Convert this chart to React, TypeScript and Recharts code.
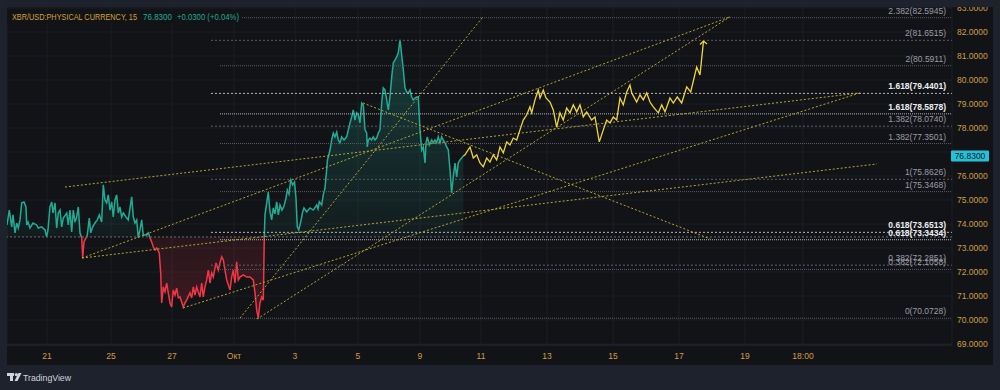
import React from "react";
import { ComposedChart, Area, Line, XAxis, YAxis, CartesianGrid, ReferenceLine } from "recharts";

// time unit: one x-axis label step (~1 session); value: price
const priceSeries: [number, number][] = [
  [0.355, 73.96], [0.392, 74.58], [0.431, 73.88], [0.452, 74.38], [0.484, 73.63], [0.511, 74.04],
  [0.537, 73.83], [0.565, 74.17], [0.592, 74.88], [0.629, 74.92], [0.661, 74.71], [0.673, 73.96],
  [0.694, 74.08], [0.726, 73.83], [0.774, 74.04], [0.834, 73.96], [0.86, 73.83], [0.915, 73.88],
  [0.968, 73.75], [0.995, 73.46], [1.016, 73.75], [1.048, 74.71], [1.076, 74.92], [1.097, 74.46],
  [1.129, 74.88], [1.156, 73.83], [1.182, 74.46], [1.21, 74.58], [1.237, 73.88], [1.263, 74.25],
  [1.318, 74.46], [1.344, 73.96], [1.371, 74.58], [1.398, 73.67], [1.424, 74.58], [1.452, 74.08],
  [1.479, 74.29], [1.505, 74.71], [1.532, 73.63], [1.56, 73.42], [1.576, 72.58], [1.597, 73.25],
  [1.629, 73.42], [1.65, 73.54], [1.682, 74.25], [1.705, 73.63], [1.737, 73.88], [1.774, 74.04],
  [1.811, 74.17], [1.844, 74.38], [1.882, 74.08], [1.908, 75.63], [1.935, 75.0], [1.963, 74.88],
  [1.989, 75.21], [2.016, 74.58], [2.044, 74.92], [2.069, 74.29], [2.097, 75.0], [2.124, 75.21],
  [2.15, 74.46], [2.177, 74.71], [2.205, 74.29], [2.231, 74.46], [2.274, 74.29], [2.311, 74.17],
  [2.366, 75.13], [2.392, 74.29], [2.419, 74.04], [2.447, 74.17], [2.473, 73.42], [2.5, 73.75],
  [2.527, 74.17], [2.553, 73.54], [2.608, 73.54], [2.634, 73.63], [2.661, 73.42], [2.689, 73.25],
  [2.715, 73.04], [2.742, 72.92], [2.769, 73.0], [2.811, 72.79], [2.834, 71.96], [2.85, 70.71],
  [2.876, 71.38], [2.903, 71.17], [2.931, 71.54], [2.956, 71.13], [2.984, 70.71], [3.011, 70.54],
  [3.037, 71.25], [3.065, 71.04], [3.092, 71.33], [3.118, 70.92], [3.145, 70.96], [3.173, 70.75],
  [3.198, 70.54], [3.226, 70.71], [3.253, 70.83], [3.306, 71.13], [3.334, 70.92], [3.36, 71.38],
  [3.387, 71.04], [3.415, 71.38], [3.44, 71.17], [3.468, 70.96], [3.495, 71.54], [3.521, 70.96],
  [3.548, 71.38], [3.576, 71.67], [3.602, 72.08], [3.629, 71.54], [3.656, 71.96], [3.682, 71.79],
  [3.726, 72.38], [3.763, 72.08], [3.79, 72.38], [3.818, 72.63], [3.844, 72.5], [3.871, 72.08],
  [3.898, 71.67], [3.952, 71.25], [3.979, 71.79], [4.005, 72.08], [4.032, 71.54], [4.06, 72.42],
  [4.086, 71.67], [4.113, 71.79], [4.166, 71.88], [4.221, 71.79], [4.274, 71.79], [4.327, 71.67],
  [4.355, 71.13], [4.382, 70.42], [4.408, 70.08], [4.435, 70.71], [4.463, 70.96], [4.489, 70.83],
  [4.505, 73.46], [4.516, 74.38], [4.569, 75.33], [4.597, 74.5], [4.624, 74.17], [4.65, 74.67],
  [4.677, 74.42], [4.705, 74.92], [4.731, 74.38], [4.758, 74.79], [4.79, 74.58], [4.823, 74.75],
  [4.855, 75.08], [4.876, 75.42], [4.903, 75.25], [4.931, 75.83], [4.963, 75.63], [4.992, 75.75],
  [5.016, 75.08], [5.037, 73.88], [5.06, 73.75], [5.092, 74.08], [5.124, 74.5], [5.145, 74.67],
  [5.189, 74.5], [5.242, 74.67], [5.295, 74.58], [5.35, 74.79], [5.371, 74.63], [5.392, 74.92],
  [5.431, 74.79], [5.456, 75.21], [5.484, 75.5], [5.508, 76.17], [5.524, 76.67], [5.565, 77.08],
  [5.592, 77.5], [5.618, 77.79], [5.645, 77.63], [5.673, 77.83], [5.698, 77.5], [5.726, 77.38],
  [5.753, 77.63], [5.79, 77.5], [5.834, 77.63], [5.86, 77.92], [5.887, 78.21], [5.915, 78.46],
  [5.94, 78.75], [5.968, 78.33], [5.995, 78.63], [6.021, 78.54], [6.048, 78.21], [6.076, 79.04],
  [6.102, 78.96], [6.129, 77.92], [6.156, 77.79], [6.166, 77.21], [6.182, 77.5], [6.21, 77.58],
  [6.237, 77.5], [6.263, 77.63], [6.29, 77.5], [6.318, 77.58], [6.344, 77.79], [6.371, 77.92],
  [6.398, 79.04], [6.424, 79.67], [6.452, 79.58], [6.479, 79.17], [6.505, 78.75], [6.532, 79.29],
  [6.56, 80.13], [6.585, 80.71], [6.613, 80.83], [6.64, 80.96], [6.666, 81.13], [6.694, 81.67],
  [6.721, 81.04], [6.747, 80.42], [6.774, 79.67], [6.802, 79.5], [6.827, 79.46], [6.855, 79.58],
  [6.882, 79.29], [6.908, 79.17], [6.935, 79.25], [6.963, 79.29], [6.989, 79.29], [7.016, 77.92],
  [7.044, 77.08], [7.069, 77.21], [7.097, 76.54], [7.113, 77.38], [7.134, 77.63], [7.166, 77.29],
  [7.205, 77.5], [7.231, 77.38], [7.258, 77.5], [7.285, 77.38], [7.311, 77.63], [7.339, 77.38],
  [7.366, 77.63], [7.392, 77.5], [7.419, 77.38], [7.447, 77.21], [7.473, 77.08], [7.5, 76.25],
  [7.527, 75.29], [7.553, 75.96], [7.581, 76.54], [7.608, 75.96], [7.634, 76.54], [7.661, 76.67],
  [7.715, 76.83],
];

// hand-drawn forecast path (yellow)
const forecastPath: [number, number][] = [
  [7.715, 76.83], [7.742, 76.88], [7.823, 77.21], [7.876, 76.75], [7.931, 76.88], [7.984, 76.54],
  [8.037, 76.38], [8.092, 76.75], [8.145, 76.58], [8.198, 76.88], [8.253, 76.67], [8.306, 77.21],
  [8.36, 76.96], [8.415, 77.42], [8.468, 77.29], [8.521, 77.58], [8.576, 77.5], [8.629, 77.92],
  [8.682, 78.33], [8.737, 78.54], [8.79, 78.88], [8.818, 78.63], [8.871, 79.17], [8.924, 79.58],
  [8.952, 79.25], [9.005, 79.58], [9.048, 79.25], [9.113, 79.08], [9.166, 78.75], [9.221, 78.04],
  [9.274, 78.63], [9.327, 78.33], [9.382, 78.83], [9.435, 78.63], [9.489, 78.96], [9.544, 78.67],
  [9.597, 78.96], [9.65, 78.46], [9.705, 78.67], [9.785, 78.33], [9.839, 78.46], [9.908, 77.42],
  [9.973, 77.92], [10.027, 78.33], [10.081, 78.21], [10.134, 78.46], [10.189, 78.33], [10.242, 79.25],
  [10.295, 78.96], [10.35, 79.5], [10.403, 79.79], [10.431, 79.46], [10.511, 79.08], [10.565, 79.38],
  [10.618, 79.17], [10.673, 79.46], [10.726, 79.08], [10.779, 78.88], [10.86, 78.63], [10.915, 78.96],
  [10.968, 78.67], [11.048, 79.25], [11.102, 79.04], [11.166, 79.29], [11.237, 79.04], [11.318, 79.71],
  [11.382, 79.5], [11.479, 80.54], [11.532, 80.21], [11.589, 81.62],
];

// dotted trend lines: [t1, v1, t2, v2]
const trendLines: [number, number, number, number][] = [
  [1.29, 75.54, 14.113, 79.46],
  [1.565, 72.58, 12.016, 82.63],
  [1.565, 72.58, 14.387, 76.5],
  [3.194, 70.5, 14.113, 79.46],
  [4.387, 70.04, 12.016, 82.63],
  [4.113, 70.08, 8.032, 82.63],
  [6.097, 79.04, 11.694, 73.38],
];

// fib retracement levels: [level, price]
const fibA: [number, number][] = [
  [0.382, 72.2851], [0.618, 73.6513], [1, 75.8626], [1.382, 78.074], [1.618, 79.4401], [2, 81.6515],
];
const fibB: [number, number][] = [
  [0, 70.0728], [0.382, 72.1058], [0.618, 73.3434], [1, 75.3468], [1.382, 77.3501], [1.618, 78.5878],
  [2, 80.5911], [2.382, 82.5945],
];
const FIB_A_START = 3.645;
const FIB_B_START = 3.79;

const xTickValues = [1, 2.032, 3.016, 4.016, 5, 6.016, 7.016, 8, 9.065, 10.129, 11.194, 12.258, 13.194];
const xTickLabels = ["21", "25", "27", "Окт", "3", "5", "9", "11", "13", "15", "17", "19", "18:00"];
const yTicks = [69, 70, 71, 72, 73, 74, 75, 76, 77, 78, 79, 80, 81, 82, 83];

const X_MIN = 0.355;
const X_MAX = 15.597;
const Y_MIN = 68.958;
const Y_MAX = 83.04;
const BASE = 73.46;
const LAST = 76.83;

const FONT = "'Liberation Sans', Arial, sans-serif";
const GOLD = "#cf9f45";
const TEAL = "#22ab94";
const RED = "#f23645";

const priceData = priceSeries.map(([t, v]) => ({ t, v }));
const pathData = forecastPath.map(([t, v]) => ({ t, v }));
const maxV = Math.max(...priceSeries.map((p) => p[1]));
const minV = Math.min(...priceSeries.map((p) => p[1]));
const split = (maxV - BASE) / (maxV - minV);

const XTick = (p: any) => {
  const i = xTickValues.indexOf(p.payload.value);
  return (
    <text x={p.x} y={p.y + 14} textAnchor="middle" fill={GOLD} fontSize={8.5} fontFamily={FONT}>
      {xTickLabels[i]}
    </text>
  );
};

const YTick = (p: any) => {
  if (Math.abs(p.payload.value - LAST) < 0.3) return <g />;
  return (
    <text x={p.x + 5} y={p.y + 3} fill={GOLD} fontSize={8.5} fontFamily={FONT}>
      {p.payload.value.toFixed(4)}
    </text>
  );
};

const fibLabel = (text: string, bright: boolean) => (props: any) => {
  const vb = props.viewBox || {};
  return (
    <text
      x={vb.x + vb.width - 6}
      y={vb.y - 4}
      textAnchor="end"
      fill={bright ? "#eceef2" : "#9a9da5"}
      fontWeight={bright ? 700 : 400}
      fontSize={8.5}
      fontFamily={FONT}
    >
      {text}
    </text>
  );
};

const lastLabel = (props: any) => {
  const vb = props.viewBox || {};
  const right = vb.x + vb.width;
  return (
    <g>
      <rect x={right - 1} y={vb.y - 5.5} width={38} height={11} fill="#23c2da" rx={1} />
      <text x={right + 18} y={vb.y + 3} textAnchor="middle" fill="#0e1116" fontSize={8.5} fontFamily={FONT}>
        {LAST.toFixed(4)}
      </text>
    </g>
  );
};

const ArrowDot = (p: any) => {
  if (p.index !== pathData.length - 1) return <g key={p.index} />;
  return (
    <path
      key={p.index}
      d={`M${p.cx - 3.5},${p.cy + 3.5} L${p.cx},${p.cy} L${p.cx + 3.5},${p.cy + 3}`}
      stroke="#efd53d"
      strokeWidth={1.3}
      fill="none"
    />
  );
};

export default function App() {
  const fibLines = [
    ...fibA.map(([lv, v]) => ({ lv, v, start: FIB_A_START, dash: "2 2" })),
    ...fibB.map(([lv, v]) => ({ lv, v, start: FIB_B_START, dash: "1 1" })),
  ];
  return (
    <div
      style={{
        position: "absolute",
        left: 0,
        top: 0,
        width: 1000,
        height: 390,
        background: "#1e222d",
        overflow: "hidden",
        fontFamily: FONT,
      }}
    >
      <div style={{ position: "absolute", left: 7, top: 7, width: 986, height: 358, background: "#121317" }}>
        <ComposedChart width={986} height={358} margin={{ top: 0, right: 0, bottom: 0, left: 0 }}>
          <defs>
            <linearGradient id="baseFill" x1="0" y1="0" x2="0" y2="1">
              <stop offset={0} stopColor={TEAL} stopOpacity={0.28} />
              <stop offset={split} stopColor={TEAL} stopOpacity={0.06} />
              <stop offset={split} stopColor={RED} stopOpacity={0.1} />
              <stop offset={1} stopColor={RED} stopOpacity={0.2} />
            </linearGradient>
            <linearGradient id="baseStroke" x1="0" y1="0" x2="0" y2="1">
              <stop offset={0} stopColor={TEAL} />
              <stop offset={split} stopColor={TEAL} />
              <stop offset={split} stopColor={RED} />
              <stop offset={1} stopColor={RED} />
            </linearGradient>
          </defs>
          <CartesianGrid stroke="#1c1f26" />
          <XAxis
            dataKey="t"
            type="number"
            domain={[X_MIN, X_MAX]}
            allowDataOverflow
            ticks={xTickValues}
            interval={0}
            height={20}
            tickSize={0}
            tickMargin={0}
            tickLine={false}
            axisLine={{ stroke: "#23262e" }}
            tick={<XTick />}
          />
          <YAxis
            orientation="right"
            type="number"
            domain={[Y_MIN, Y_MAX]}
            allowDataOverflow
            ticks={yTicks}
            interval={0}
            width={41}
            tickSize={0}
            tickMargin={0}
            tickLine={false}
            axisLine={false}
            tick={<YTick />}
          />
          <ReferenceLine y={BASE} stroke="#6a6d75" strokeDasharray="2 2" ifOverflow="visible" />
          {fibLines.map((f, i) => {
            const bright = f.lv === 0.618 || f.lv === 1.618;
            return (
              <ReferenceLine
                key={"fib" + i}
                segment={[
                  { x: f.start, y: f.v },
                  { x: X_MAX, y: f.v },
                ]}
                stroke={bright ? "#b4b7bf" : "#5c5f68"}
                strokeDasharray={f.dash}
                ifOverflow="visible"
                label={fibLabel(`${f.lv}(${f.v.toFixed(4)})`, bright)}
              />
            );
          })}
          {trendLines.map(([t1, v1, t2, v2], i) => (
            <ReferenceLine
              key={"tr" + i}
              segment={[
                { x: t1, y: v1 },
                { x: t2, y: v2 },
              ]}
              stroke="#b5a434"
              strokeDasharray="2 2"
              ifOverflow="visible"
            />
          ))}
          <Area
            data={priceData}
            dataKey="v"
            type="linear"
            baseValue={BASE}
            stroke="url(#baseStroke)"
            strokeWidth={1.5}
            fill="url(#baseFill)"
            fillOpacity={1}
            dot={false}
            activeDot={false}
            isAnimationActive={false}
          />
          <Line
            data={pathData}
            dataKey="v"
            type="linear"
            stroke="#efd53d"
            strokeWidth={1.3}
            dot={ArrowDot}
            activeDot={false}
            isAnimationActive={false}
          />
          <ReferenceLine y={LAST} stroke="none" ifOverflow="visible" label={lastLabel} />
        </ComposedChart>
        <svg width={260} height={24} style={{ position: "absolute", left: 0, top: 0 }}>
          <rect x={0} y={3} width={235} height={13} fill="#121317" />
          <text x={5} y={12.5} fill="#d4a140" fontSize={8.5} fontFamily={FONT} textLength={125} lengthAdjust="spacingAndGlyphs">
            XBR/USD:PHYSICAL CURRENCY, 15
          </text>
          <text x={136} y={12.5} fill={TEAL} fontSize={8.5} fontFamily={FONT} textLength={29} lengthAdjust="spacingAndGlyphs">
            76.8300
          </text>
          <text x={170} y={12.5} fill={TEAL} fontSize={8.5} fontFamily={FONT} textLength={62} lengthAdjust="spacingAndGlyphs">
            +0.0300 (+0.04%)
          </text>
        </svg>
      </div>
      <svg width={120} height={20} style={{ position: "absolute", left: 0, top: 370 }}>
        <rect x={7} y={3} width={7} height={3} fill="#d1d4dc" />
        <rect x={10} y={3} width={3} height={8} fill="#d1d4dc" />
        <circle cx={16.3} cy={4.6} r={1.6} fill="#d1d4dc" />
        <polygon points="18.5,3 21.5,3 17.5,11 14.5,11" fill="#d1d4dc" />
        <text x={23} y={11} fill="#d1d4dc" fontSize={9.5} fontFamily={FONT} textLength={48} lengthAdjust="spacingAndGlyphs">
          TradingView
        </text>
      </svg>
    </div>
  );
}
